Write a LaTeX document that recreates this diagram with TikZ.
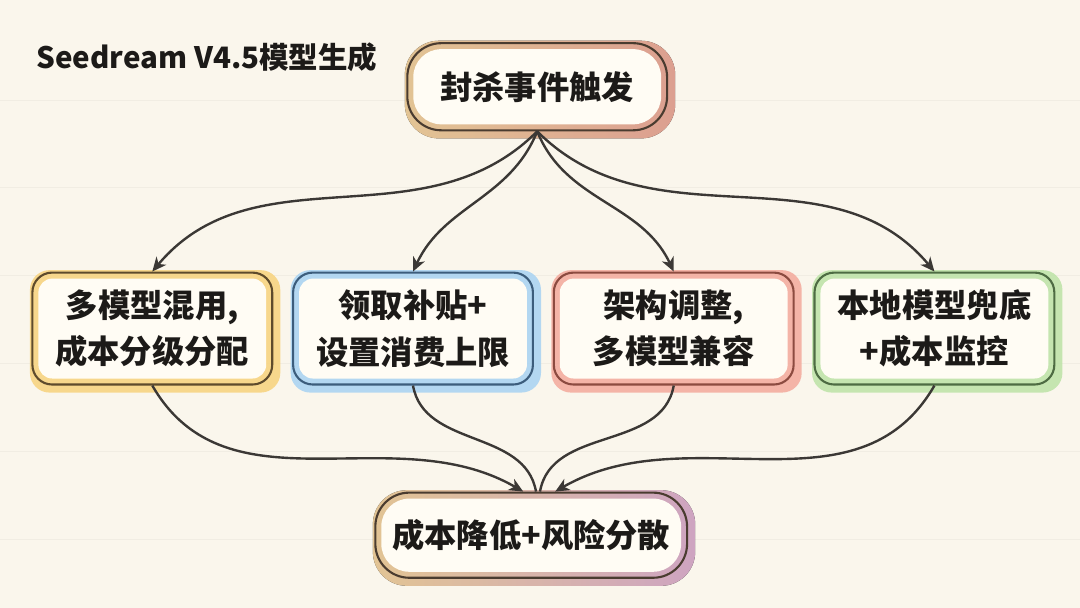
\documentclass[tikz,border=0pt]{standalone}
\usepackage{fontspec}
\newfontfamily\cjk{Noto Sans CJK SC}
\usepackage{xcolor}
\definecolor{paper}{HTML}{FAF6EC}
\definecolor{panel}{HTML}{FFFCF4}
\definecolor{ink}{HTML}{1C1A18}
\definecolor{arrowgray}{HTML}{3B3835}
\definecolor{ruleline}{HTML}{F1EDE3}
\definecolor{yellowedge}{HTML}{5E4B2C}
\definecolor{yellowglow}{HTML}{F7D27C}
\definecolor{blueedge}{HTML}{3C5D7C}
\definecolor{blueglow}{HTML}{A7D2F2}
\definecolor{rededge}{HTML}{8C4B40}
\definecolor{redglow}{HTML}{F3A99C}
\definecolor{greenedge}{HTML}{4E6C43}
\definecolor{greenglow}{HTML}{BCE3A6}
\definecolor{peachglow}{HTML}{F8D7A2}
\definecolor{pinkglow}{HTML}{F2AE9E}
\definecolor{lilacglow}{HTML}{E2B4D4}
\definecolor{darkedge}{HTML}{4A3C30}
\usetikzlibrary{positioning, arrows.meta, backgrounds}

\begin{document}
\begin{tikzpicture}[node distance=0.47cm, >={Stealth[length=10pt, width=9pt, inset=3pt]}, every node/.style={font=\cjk\bfseries\fontsize{23}{33}\selectfont, text=ink},
    card/.style={draw=#1, line width=1.5pt, rounded corners=14pt, minimum width=6cm, minimum height=2.8cm, align=center, inner sep=0pt},
    pill/.style={draw=darkedge, line width=1.5pt, rounded corners=0.85cm, align=center, inner sep=0pt},
    flow/.style={arrowgray, line width=1.7pt}]
    \begin{scope}[on background layer]
        \fill[paper] (0,0) rectangle (27,-15.2);
        \foreach \y in {2.5, 4.7, 6.9, 9.1, 11.3, 13.5}
            \draw[ruleline, line width=0.6pt] (0,-\y) -- (27,-\y);
    \end{scope}
    \useasboundingbox (0,0) rectangle (27,-15.2);

    \node [anchor=west, font=\cjk\bfseries\fontsize{21}{24}\selectfont] (title) at (0.78,-1.42) {Seedream V4.5模型生成};

    \node [pill, minimum width=6.5cm, minimum height=2.18cm] (top) at (13.43,-2.17) {封杀事件触发};

    \node [card=yellowedge] (b1) at (3.8,-8.22) {多模型混用,\\成本分级分配};
    \node [card=blueedge, right=of b1] (b2) {领取补贴+\\设置消费上限};
    \node [card=rededge, right=of b2] (b3) {架构调整,\\多模型兼容};
    \node [card=greenedge, right=of b3] (b4) {本地模型兜底\\+成本监控};

    \node [pill, minimum width=7.8cm, minimum height=2.13cm] (bot) at (13.28,-13.39) {成本降低+风险分散};

    \begin{scope}[on background layer]
        \foreach \n/\c in {b1/yellowglow, b2/blueglow, b3/redglow, b4/greenglow} {
            \fill[\c, opacity=0.85, rounded corners=14pt] ([shift={(-1pt,-5pt)}]\n.south west) rectangle ([shift={(5pt,1pt)}]\n.north east);
            \fill[panel, rounded corners=10pt] ([shift={(5pt,5pt)}]\n.south west) rectangle ([shift={(-5pt,-5pt)}]\n.north east);
        }
        \fill[left color=peachglow, right color=pinkglow, opacity=0.9, rounded corners=0.85cm] ([shift={(-1pt,-5pt)}]top.south west) rectangle ([shift={(5pt,1pt)}]top.north east);
        \fill[panel, rounded corners=0.7cm] ([shift={(5pt,5pt)}]top.south west) rectangle ([shift={(-5pt,-5pt)}]top.north east);
        \fill[left color=peachglow, right color=lilacglow, opacity=0.9, rounded corners=0.85cm] ([shift={(-1pt,-5pt)}]bot.south west) rectangle ([shift={(5pt,1pt)}]bot.north east);
        \fill[panel, rounded corners=0.7cm] ([shift={(5pt,5pt)}]bot.south west) rectangle ([shift={(-5pt,-5pt)}]bot.north east);
    \end{scope}

    \draw [flow, ->] (top.south) to[out=-135, in=50] (b1.north);
    \draw [flow, ->] (top.south) to[out=-112, in=65] (b2.north);
    \draw [flow, ->] (top.south) to[out=-68, in=115] (b3.north);
    \draw [flow, ->] (top.south) to[out=-45, in=130] (b4.north);

    \draw [flow, ->] (b1.south) to[out=-60, in=150] ([xshift=-0.2cm]bot.north);
    \draw [flow] (b2.south) to[out=-80, in=100] ([xshift=0.12cm]bot.north);
    \draw [flow] (b3.south) to[out=-100, in=80] ([xshift=0.22cm]bot.north);
    \draw [flow, ->] (b4.south) to[out=-120, in=30] ([xshift=0.6cm]bot.north);
\end{tikzpicture}
\end{document}
